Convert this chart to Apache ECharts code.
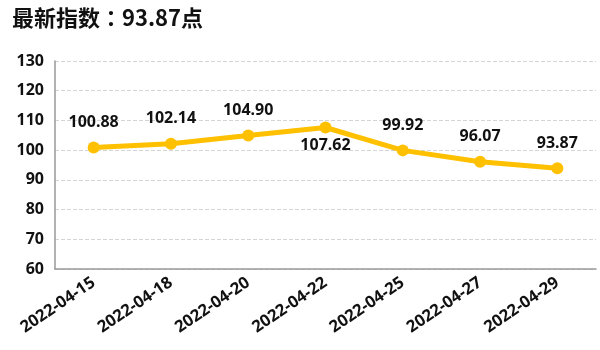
<!DOCTYPE html>
<html><head><meta charset="utf-8">
<script src="https://cdn.jsdelivr.net/npm/echarts@6/dist/echarts.min.js"></script>
<style>html,body{margin:0;padding:0;background:#fff}#c{width:600px;height:350px}</style>
</head><body><div id="c"></div>
<script>
const titleText = '最新指数：93.87点';
const categories = ['2022-04-15','2022-04-18','2022-04-20','2022-04-22','2022-04-25','2022-04-27','2022-04-29'];
const values = [100.88, 102.14, 104.90, 107.62, 99.92, 96.07, 93.87];
const labelBelow = [false, false, false, true, false, false, false];
const yMin = 60, yMax = 130, yStep = 10;

const font = '"Noto Sans", "Noto Sans CJK SC", sans-serif';
const chart = echarts.init(document.getElementById('c'));
chart.setOption({
  animation: false,
  title: { text: titleText, left: 7, top: 2, textStyle: { fontFamily: '"Noto Sans CJK TC", sans-serif', fontSize: 22, fontWeight: 'bold', color: '#111' } },
  grid: { left: 55, right: 4, top: 61, bottom: 81 },
  xAxis: {
    type: 'category', data: categories, boundaryGap: true,
    axisLine: { lineStyle: { color: '#999', width: 1.5 } },
    axisTick: { show: false },
    axisLabel: { rotate: 34, interval: 0, color: '#111', fontFamily: font, fontSize: 16.5, fontWeight: 'bold', margin: 12 }
  },
  yAxis: {
    type: 'value', min: yMin, max: yMax, interval: yStep,
    axisLine: { show: true, lineStyle: { color: '#999', width: 1.5 } },
    axisTick: { show: false },
    splitLine: { lineStyle: { color: '#d4d4d4', type: 'dashed' } },
    axisLabel: { color: '#111', fontFamily: font, fontSize: 16, fontWeight: 'bold', margin: 11 }
  },
  series: [{
    type: 'line', symbol: 'circle', symbolSize: 12,
    lineStyle: { color: '#FFC000', width: 5 },
    itemStyle: { color: '#FFC000' },
    data: values.map((v, i) => ({
      value: v,
      label: { position: labelBelow[i] ? 'bottom' : 'top', distance: labelBelow[i] ? 4 : 11 }
    })),
    label: { show: true, formatter: p => p.value.toFixed(2), color: '#111', fontFamily: font, fontSize: 16, fontWeight: 'bold' }
  }]
});
</script></body></html>
